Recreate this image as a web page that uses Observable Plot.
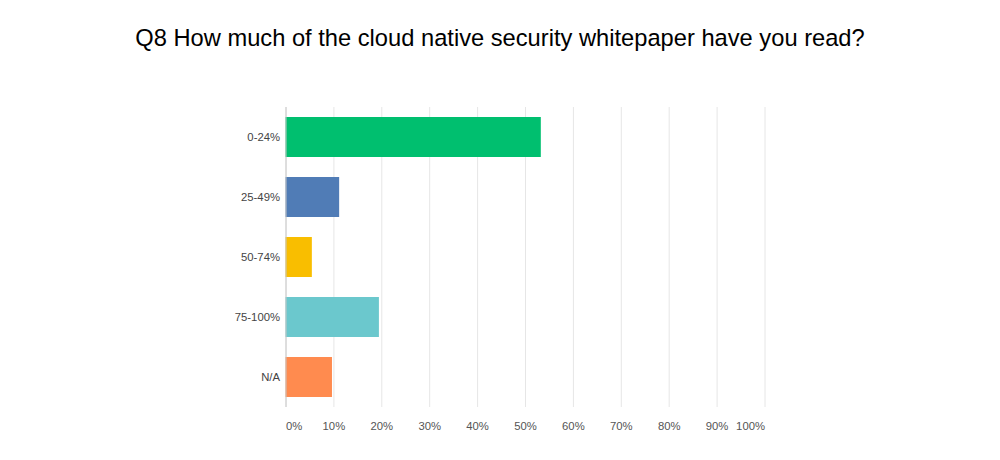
<!DOCTYPE html>
<html>
<head>
<meta charset="utf-8">
<script src="https://cdn.jsdelivr.net/npm/d3@7"></script>
<script src="https://cdn.jsdelivr.net/npm/@observablehq/plot@0.6"></script>
<style>
  html, body { margin: 0; padding: 0; background: #fff; }
  #title { box-sizing: border-box; height: 70px; padding-top: 26px; width: 1000px; text-align: center; font-family: "Liberation Sans", Arial, sans-serif; font-size: 23.7px; color: #000; line-height: 24px; white-space: nowrap; }
  #chart svg { display: block; }
</style>
</head>
<body>
<div id="title">Q8 How much of the cloud native security whitepaper have you read?</div>
<div id="chart"></div>
<script>
const categories = ["0-24%", "25-49%", "50-74%", "75-100%", "N/A"];
const values = [53.3, 11.2, 5.5, 19.5, 9.7];
const colors = ["#00bf6f", "#507cb6", "#f9be00", "#6bc8cd", "#ff8b4f"];
const xTicks = [0, 10, 20, 30, 40, 50, 60, 70, 80, 90, 100];

const data = categories.map((c, i) => ({category: c, value: values[i]}));
const axisStyle = {tickSize: 0, tickPadding: 14, fontSize: 11.3, color: "#555", label: null, tickFormat: d => d + "%"};

const plot = Plot.plot({
  width: 1000,
  height: 390,
  marginLeft: 285.5,
  marginRight: 235.5,
  marginTop: 37,
  marginBottom: 53,
  style: {fontFamily: "\"Liberation Sans\", Arial, sans-serif", background: "#fff"},
  x: {domain: [0, 100]},
  y: {domain: categories, paddingInner: 1/3, paddingOuter: 1/6},
  color: {domain: categories, range: colors},
  marks: [
    Plot.gridX(xTicks, {stroke: "#e6e6e6", strokeOpacity: 1}),
    Plot.barX(data, {x: "value", y: "category", fill: "category"}),
    Plot.ruleX([0], {stroke: "#c8c8c8"}),
    Plot.ruleY([0], {y: () => null, frameAnchor: "bottom", stroke: "#c8c8c8"}),
    Plot.axisY({tickSize: 0, tickPadding: 6, fontSize: 11.3, color: "#444", label: null}),
    Plot.axisX([0], {...axisStyle, textAnchor: "start"}),
    Plot.axisX(xTicks.slice(1, -1), axisStyle),
    Plot.axisX([100], {...axisStyle, textAnchor: "end"})
  ]
});
document.getElementById("chart").appendChild(plot);
</script>
</body>
</html>
